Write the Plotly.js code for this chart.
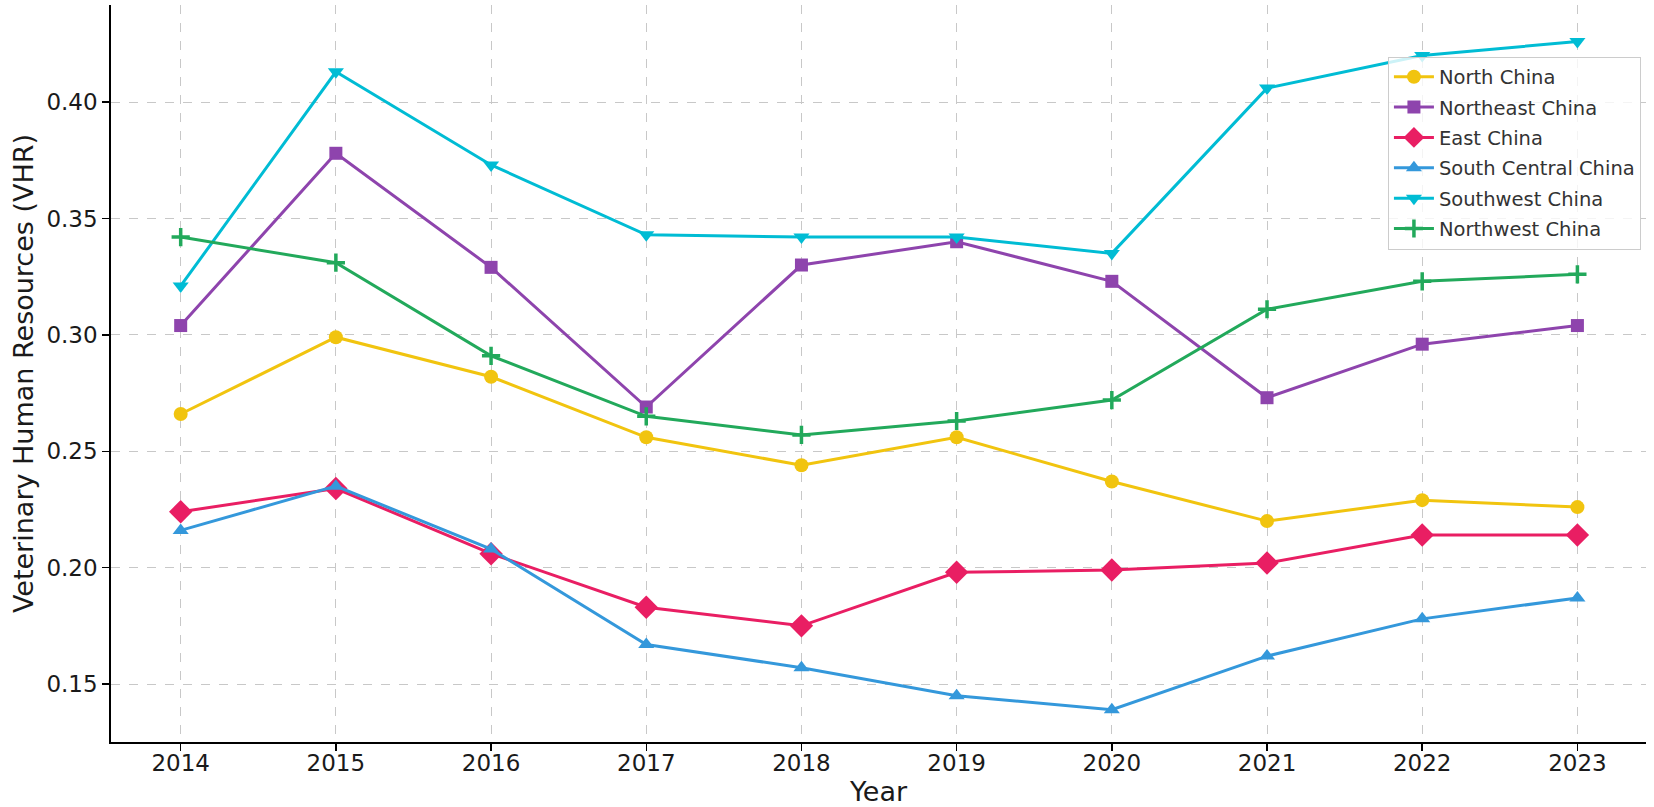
<!DOCTYPE html>
<html>
<head>
<meta charset="utf-8">
<script src="https://cdn.plot.ly/plotly-3.0.1.min.js"></script>
<style>html,body{margin:0;padding:0;background:#fff;}#chart{width:1654px;height:807px;}</style>
</head>
<body>
<div id="chart"></div>
<script>
const years = [2014, 2015, 2016, 2017, 2018, 2019, 2020, 2021, 2022, 2023];
const northChina = [0.266, 0.299, 0.282, 0.256, 0.244, 0.256, 0.237, 0.220, 0.229, 0.226];
const northeastChina = [0.304, 0.378, 0.329, 0.269, 0.330, 0.340, 0.323, 0.273, 0.296, 0.304];
const eastChina = [0.224, 0.234, 0.206, 0.183, 0.175, 0.198, 0.199, 0.202, 0.214, 0.214];
const southCentralChina = [0.216, 0.235, 0.208, 0.167, 0.157, 0.145, 0.139, 0.162, 0.178, 0.187];
const southwestChina = [0.321, 0.413, 0.373, 0.343, 0.342, 0.342, 0.335, 0.406, 0.420, 0.426];
const northwestChina = [0.342, 0.331, 0.291, 0.265, 0.257, 0.263, 0.272, 0.311, 0.323, 0.326];
const yTicks = [0.15, 0.20, 0.25, 0.30, 0.35, 0.40];
const yTickLabels = ['0.15', '0.20', '0.25', '0.30', '0.35', '0.40'];

const seriesDefs = [
  {name: 'North China', y: northChina, color: '#F1C40F', symbol: 'circle', size: 14},
  {name: 'Northeast China', y: northeastChina, color: '#8E44AD', symbol: 'square', size: 13},
  {name: 'East China', y: eastChina, color: '#E91E63', symbol: 'diamond', size: 18},
  {name: 'South Central China', y: southCentralChina, color: '#3498DB', symbol: 'triangle-up', size: 14},
  {name: 'Southwest China', y: southwestChina, color: '#00BCD4', symbol: 'triangle-down', size: 14},
  {name: 'Northwest China', y: northwestChina, color: '#22A95B', symbol: 'cross-thin', size: 13}
];

const traces = seriesDefs.map((s, i) => ({
  type: 'scatter',
  mode: 'lines+markers',
  name: s.name,
  legendgroup: 'g' + i,
  x: years,
  y: s.y,
  line: {color: s.color, width: 3},
  marker: {
    color: s.color, symbol: s.symbol, size: s.size,
    line: {color: s.color, width: s.symbol === 'cross-thin' ? 3.5 : 0}
  }
}));

const layout = {
  width: 1654, height: 807,
  paper_bgcolor: '#fff', plot_bgcolor: '#fff',
  margin: {l: 111, r: 8, t: 5, b: 65},
  font: {family: 'DejaVu Sans, sans-serif', color: '#1a1a1a'},
  showlegend: true,
  legend: {
    x: 0.9967, xanchor: 'right', y: 0.93, yanchor: 'top',
    bgcolor: 'rgba(255,255,255,0.8)', bordercolor: '#cccccc', borderwidth: 1,
    font: {size: 19.5, color: '#333'},
    tracegroupgap: 2, itemwidth: 40
  },
  xaxis: {
    range: [2013.551, 2023.442],
    tickvals: years, ticktext: years.map(String),
    showgrid: true, gridcolor: '#c8c8c8', griddash: 'dash', gridwidth: 1,
    showline: true, linecolor: '#000', linewidth: 1.8,
    ticks: 'outside', ticklen: 7, tickwidth: 1.5, tickcolor: '#000',
    ticklabelstandoff: -7,
    tickfont: {size: 23, color: '#1a1a1a'},
    zeroline: false, mirror: false,
    title: {text: 'Year', font: {size: 27, color: '#1a1a1a'}, standoff: 10}
  },
  yaxis: {
    range: [0.1251, 0.4417],
    tickvals: yTicks, ticktext: yTickLabels,
    showgrid: true, gridcolor: '#c8c8c8', griddash: 'dash', gridwidth: 1,
    showline: true, linecolor: '#000', linewidth: 1.8,
    ticks: 'outside', ticklen: 7, tickwidth: 1.5, tickcolor: '#000',
    tickfont: {size: 23, color: '#1a1a1a'},
    zeroline: false, mirror: false,
    title: {text: 'Veterinary Human Resources (VHR)', font: {size: 27, color: '#1a1a1a'}, standoff: 5}
  }
};

Plotly.newPlot('chart', traces, layout, {displayModeBar: false, staticPlot: true});
</script>
</body>
</html>
